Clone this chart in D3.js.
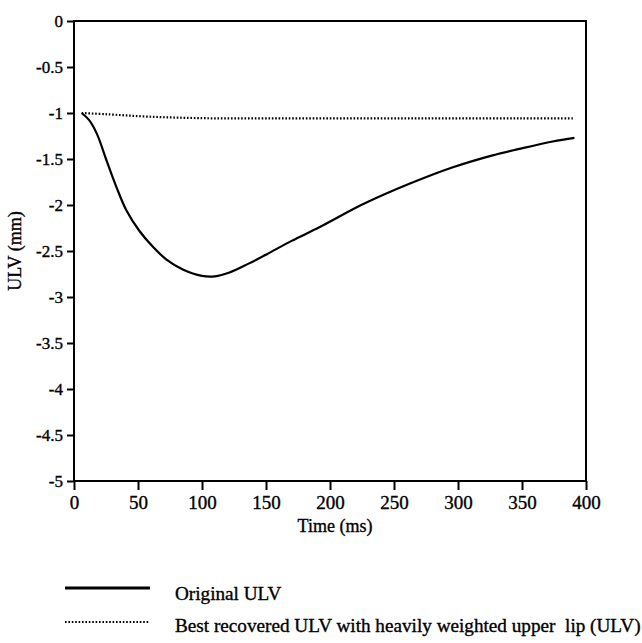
<!DOCTYPE html>
<html>
<head>
<meta charset="utf-8">
<script src="https://cdn.jsdelivr.net/npm/d3@7"></script>
<style>
  body { margin: 0; background: #fff; }
  text { font-family: "Liberation Serif", "Times New Roman", serif; fill: #000; stroke: #000; stroke-width: 0.35px; }
</style>
</head>
<body>
<div id="chart"></div>
<script>
const xTicks = [0, 50, 100, 150, 200, 250, 300, 350, 400];
const yTicks = [0, -0.5, -1, -1.5, -2, -2.5, -3, -3.5, -4, -4.5, -5];

// Original ULV (solid)
const originalTime = [6, 12, 18, 25, 33, 41, 51, 62, 72, 85, 100, 110, 122, 136, 150, 170, 192, 226, 262, 296, 327, 348, 374, 391];
const originalULV = [-1.0, -1.08, -1.23, -1.50, -1.80, -2.06, -2.28, -2.46, -2.59, -2.70, -2.77, -2.775, -2.73, -2.64, -2.54, -2.39, -2.24, -1.99, -1.77, -1.59, -1.46, -1.39, -1.31, -1.27];

// Best recovered ULV (dotted)
const recoveredTime = [6, 26, 59, 104, 150, 200, 250, 300, 350, 391];
const recoveredULV = [-1.0, -1.014, -1.04, -1.057, -1.058, -1.058, -1.058, -1.058, -1.058, -1.058];

const legendLabels = ["Original ULV", "Best recovered ULV with heavily weighted upper  lip (ULV)"];

const width = 642;
const height = 643;
const margin = { top: 21, right: 56, bottom: 162, left: 74 };

const svg = d3.select("#chart")
    .append("svg")
    .attr("width", width)
    .attr("height", height);

const x = d3.scaleLinear()
    .domain([0, 400])
    .range([margin.left, width - margin.right]);

const y = d3.scaleLinear()
    .domain([-5, 0])
    .range([height - margin.bottom, margin.top]);

const fmt = d => String(d).replace("\u2212", "-");

// axes
svg.append("g")
    .attr("transform", `translate(0,${height - margin.bottom})`)
    .call(d3.axisBottom(x).tickValues(xTicks).tickSize(9).tickPadding(6).tickFormat(fmt))
    .call(g => g.select(".domain").remove())
    .call(g => g.selectAll(".tick line").attr("stroke", "#000").attr("stroke-width", 2))
    .call(g => g.selectAll(".tick text").attr("font-size", "19px"));

svg.append("g")
    .attr("transform", `translate(${margin.left},0)`)
    .call(d3.axisLeft(y).tickValues(yTicks).tickSize(7).tickPadding(4).tickFormat(fmt))
    .call(g => g.select(".domain").remove())
    .call(g => g.selectAll(".tick line").attr("stroke", "#000").attr("stroke-width", 2))
    .call(g => g.selectAll(".tick text").attr("font-size", "17px"));

// frame
svg.append("rect")
    .attr("x", x(0))
    .attr("y", y(0))
    .attr("width", x(400) - x(0))
    .attr("height", y(-5) - y(0))
    .attr("fill", "none")
    .attr("stroke", "#000")
    .attr("stroke-width", 2);

const line = d3.line()
    .x(d => x(d[0]))
    .y(d => y(d[1]))
    .curve(d3.curveCatmullRom);

svg.append("path")
    .datum(d3.zip(originalTime, originalULV))
    .attr("d", line)
    .attr("fill", "none")
    .attr("stroke", "#000")
    .attr("stroke-width", 2.2);

svg.append("path")
    .datum(d3.zip(recoveredTime, recoveredULV))
    .attr("d", line)
    .attr("fill", "none")
    .attr("stroke", "#000")
    .attr("stroke-width", 2.2)
    .attr("stroke-dasharray", "1.6,1.8");

// axis titles
svg.append("text")
    .attr("x", 335)
    .attr("y", 532)
    .attr("text-anchor", "middle")
    .attr("font-size", "18px")
    .text("Time (ms)");

svg.append("text")
    .attr("transform", `translate(21,${(y(0) + y(-5)) / 2}) rotate(-90)`)
    .attr("text-anchor", "middle")
    .attr("font-size", "18px")
    .text("ULV (mm)");

// legend
const legend = svg.append("g");
const legendY = [588, 622];
legend.selectAll("line")
    .data(legendLabels)
    .join("line")
    .attr("x1", 65)
    .attr("x2", 150)
    .attr("y1", (d, i) => legendY[i])
    .attr("y2", (d, i) => legendY[i])
    .attr("stroke", "#000")
    .attr("stroke-width", (d, i) => i === 0 ? 3 : 2)
    .attr("stroke-dasharray", (d, i) => i === 0 ? null : "1.6,1.8");

legend.selectAll("text")
    .data(legendLabels)
    .join("text")
    .attr("x", 175)
    .attr("y", (d, i) => legendY[i] + 12 - i * 2)
    .attr("font-size", "19.2px")
    .style("white-space", "pre")
    .text(d => d);
</script>
</body>
</html>
